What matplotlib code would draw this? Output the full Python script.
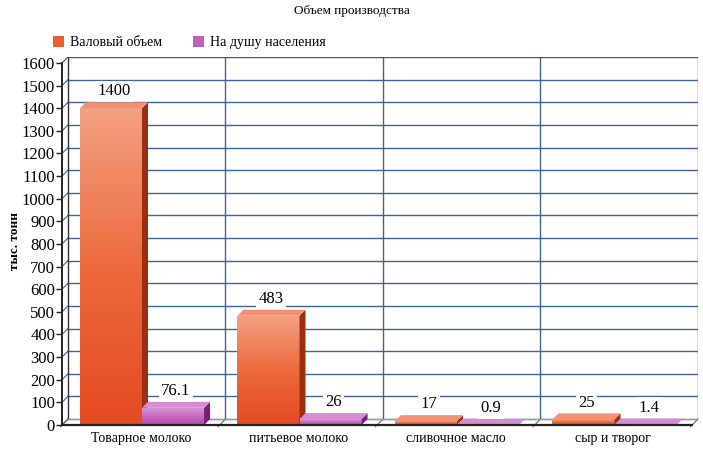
import matplotlib
matplotlib.use("Agg")
import matplotlib.pyplot as plt
import numpy as np
from matplotlib.patches import Rectangle, Polygon, Patch
from matplotlib.colors import LinearSegmentedColormap

plt.rcParams['font.family'] = ['Liberation Serif', 'DejaVu Serif']

# Data
categories = ["Товарное молоко", "питьевое молоко", "сливочное масло", "сыр и творог"]
gross = [1400, 483, 17, 25]
per_capita = [76.1, 26, 0.9, 1.4]
gross_labels = ["1400", "483", "17", "25"]
per_capita_labels = ["76.1", "26", "0.9", "1.4"]
series_names = ["Валовый объем", "На душу населения"]
y_ticks = list(range(0, 1700, 100))

# 3d look: depth offsets in data units
ddx = 0.038
ddy = 26.5
bar_w = 0.394
bar_off = 0.114

orange = dict(cmap=LinearSegmentedColormap.from_list("o", ["#E44A22", "#EC6A3E", "#F3A082"]),
              side="#9A2E10", top="#F19072", legend="#E8602F")
purple = dict(cmap=LinearSegmentedColormap.from_list("p", ["#B24AAE", "#C46CC0", "#D89AD4"]),
              side="#7E1A7A", top="#D68CD2", legend="#C060B8")

fig = plt.figure(figsize=(7.03, 4.57), dpi=100)
ax = fig.add_axes([62 / 703, 32 / 457, 636 / 703, 368 / 457])
n = len(categories)
ax.set_xlim(0, n + ddx)
ax.set_ylim(0, 1600 + ddy)
for s in ax.spines.values():
    s.set_visible(False)

grid_c = "#3F6498"
# back wall gridlines
for v in y_ticks[:-1]:
    ax.plot([ddx, n + ddx], [v + ddy, v + ddy], color=grid_c, lw=1.0, zorder=1)
    ax.plot([0, ddx], [v, v + ddy], color=grid_c, lw=0.8, zorder=1)
for k in range(1, n):
    ax.plot([k + ddx, k + ddx], [ddy, 1600 + ddy], color=grid_c, lw=1.0, zorder=1)
for k in range(0, n + 1):
    ax.plot([k - 0.01, k + ddx], [-8, ddy], color="#555555", lw=0.7, zorder=1, clip_on=False)
# wall borders
ax.plot([ddx, n + ddx, n + ddx], [1600 + ddy, 1600 + ddy, ddy], color="#555555", lw=1.0, zorder=1)
ax.plot([ddx, ddx], [ddy, 1600 + ddy], color="#333333", lw=1.0, zorder=1)
ax.plot([0, ddx], [1600, 1600 + ddy], color="#555555", lw=0.8, zorder=1)
ax.plot([ddx, n + ddx], [ddy, ddy], color="#999999", lw=0.8, zorder=1)
# front axes
ax.plot([0, 0], [0, 1600], color="#222222", lw=1.4, zorder=6, clip_on=False)
ax.plot([0, n], [0, 0], color="#222222", lw=1.6, zorder=6, clip_on=False)


def draw_bar(x0, v, style, label):
    grad = np.linspace(0, 1, 100).reshape(-1, 1)
    front = Rectangle((x0, 0), bar_w, v, facecolor="none", edgecolor="none", zorder=3)
    ax.add_patch(front)
    im = ax.imshow(grad, extent=[x0, x0 + bar_w, 0, max(v, 0.01)], origin="lower",
                   aspect="auto", cmap=style["cmap"], zorder=3)
    im.set_clip_path(front)
    side = Polygon([(x0 + bar_w, 0), (x0 + bar_w + ddx, ddy), (x0 + bar_w + ddx, v + ddy),
                    (x0 + bar_w, v)], closed=True, facecolor=style["side"], edgecolor="none", zorder=3)
    top = Polygon([(x0, v), (x0 + ddx, v + ddy), (x0 + bar_w + ddx, v + ddy), (x0 + bar_w, v)],
                  closed=True, facecolor=style["top"], edgecolor="none", zorder=4)
    ax.add_patch(side)
    ax.add_patch(top)
    ax.annotate(label, (x0 + bar_w / 2 + ddx / 2, v + ddy), xytext=(0, 2),
                textcoords="offset points", ha="center", va="bottom", fontsize=12,
                zorder=5, bbox=dict(boxstyle="square,pad=0.15", fc="white", ec="none"))


for i in range(n):
    draw_bar(i + bar_off, gross[i], orange, gross_labels[i])
    draw_bar(i + bar_off + bar_w, per_capita[i], purple, per_capita_labels[i])

ax.set_xlim(0, n + ddx)
ax.set_ylim(0, 1600 + ddy)

ax.set_yticks(y_ticks)
ax.set_yticklabels([str(v) for v in y_ticks], fontsize=12)
ax.tick_params(axis="y", length=4, width=1, color="#222222", pad=1)
ax.set_xticks([i + 0.5 for i in range(n)])
ax.set_xticklabels(categories, fontsize=10)
ax.tick_params(axis="x", length=0, pad=5)
ax.set_ylabel("тыс. тонн", fontsize=9.5, fontweight="bold")
ax.yaxis.set_label_coords(-0.064, 0.5)

fig.text(0.5, 0.976, "Объем производства", ha="center", va="center", fontsize=9.5)
handles = [Patch(facecolor=orange["legend"], label=series_names[0]),
           Patch(facecolor=purple["legend"], label=series_names[1])]
fig.legend(handles=handles, loc="center left", bbox_to_anchor=(0.057, 0.907), ncol=2,
           frameon=False, fontsize=10, handlelength=0.8, handleheight=0.8,
           handletextpad=0.45, columnspacing=2.2)

fig.savefig("out.png", dpi=100)
